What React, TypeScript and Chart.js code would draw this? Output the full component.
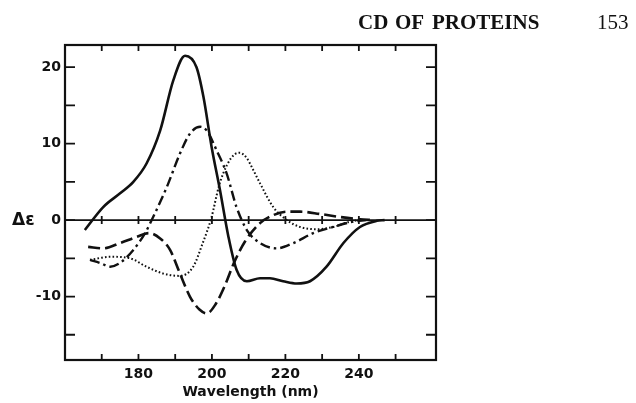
import { useEffect, useRef } from 'react';
import { Chart, registerables } from 'chart.js';

Chart.register(...registerables);

// Wavelength (nm) and Δε values
const solidNm = [165.4, 170.4, 175.0, 178.6, 182.2, 185.9, 189.5, 192.7, 195.8, 197.7, 199.9, 202.2, 204.5, 206.7, 209.5, 213.1, 215.8, 219.4, 223.1, 226.7, 231.2, 235.8, 240.3, 244.9, 247.0];
const solidDe = [-1.3, 1.7, 3.5, 5.0, 7.4, 11.7, 18.3, 21.5, 20.0, 16.1, 9.6, 3.9, -2.2, -6.5, -8.0, -7.6, -7.6, -8.0, -8.3, -8.0, -6.1, -3.0, -0.9, -0.1, 0];

const dashDotNm = [166.8, 169.5, 172.3, 175.0, 178.6, 181.8, 184.0, 187.7, 191.3, 194.0, 196.8, 198.6, 201.3, 204.0, 206.7, 209.5, 213.1, 217.6, 222.2, 227.6, 233.0, 238.5, 242.0];
const dashDotDe = [-5.2, -5.6, -6.1, -5.6, -3.9, -1.7, 0.4, 4.3, 8.7, 11.3, 12.2, 11.7, 9.1, 6.1, 1.7, -1.3, -3.0, -3.7, -3.0, -1.7, -0.9, -0.2, 0];

const dottedNm = [166.8, 172.3, 177.7, 182.2, 186.8, 191.3, 194.9, 197.5, 199.8, 202.0, 204.2, 206.2, 207.6, 209.5, 211.2, 213.1, 216.7, 220.4, 224.0, 228.5, 233.0, 237.6, 240.0];
const dottedDe = [-5.2, -4.8, -5.0, -6.1, -7.0, -7.3, -6.1, -3.0, 0.2, 4.6, 7.3, 8.6, 8.8, 8.1, 6.6, 4.8, 1.7, 0.0, -0.9, -1.2, -0.9, -0.2, 0];

const dashedNm = [166.3, 170.4, 175.0, 179.5, 182.8, 185.9, 188.6, 191.3, 194.0, 196.6, 198.6, 201.0, 203.5, 206.0, 209.0, 213.1, 216.7, 220.4, 224.0, 229.4, 234.9, 240.3, 243.8];
const dashedDe = [-3.5, -3.7, -3.0, -2.2, -1.7, -2.4, -3.9, -7.0, -10.0, -11.7, -12.2, -11.0, -8.6, -5.6, -2.8, -0.4, 0.65, 1.1, 1.1, 0.8, 0.4, 0.1, 0];

const xTickLabels = [180, 200, 220, 240];
const yTickLabels = [20, 10, 0, -10];
const xMinorTicks = [170, 180, 190, 200, 210, 220, 230, 240, 250];
const yMinorTicks = [20, 15, 10, 5, 0, -5, -10, -15];

const headerWords = ['CD', 'OF', 'PROTEINS'];
const pageNumber = '153';

const toPoints = (xs: number[], ys: number[]) => xs.map((x, i) => ({ x, y: ys[i] }));

const framePlugin = {
  id: 'framePlugin',
  afterDraw(chart: any) {
    const { ctx, chartArea } = chart;
    const xs = chart.scales.x;
    const ys = chart.scales.y;
    const { left, right, top, bottom } = chartArea;
    ctx.save();
    ctx.strokeStyle = '#111';
    ctx.lineCap = 'butt';
    // zero line
    const y0 = ys.getPixelForValue(0);
    ctx.lineWidth = 1.6;
    ctx.beginPath();
    ctx.moveTo(left, y0);
    ctx.lineTo(right, y0);
    ctx.stroke();
    // frame
    ctx.lineWidth = 2.2;
    ctx.strokeRect(left, top, right - left, bottom - top);
    // x ticks
    ctx.lineWidth = 1.8;
    xMinorTicks.forEach((v) => {
      const px = xs.getPixelForValue(v);
      ctx.beginPath();
      ctx.moveTo(px, bottom);
      ctx.lineTo(px, bottom - 6);
      ctx.moveTo(px, top);
      ctx.lineTo(px, top + 6);
      ctx.moveTo(px, y0 - 4);
      ctx.lineTo(px, y0 + 4);
      ctx.stroke();
    });
    // y ticks
    yMinorTicks.forEach((v) => {
      const py = ys.getPixelForValue(v);
      ctx.beginPath();
      ctx.moveTo(left, py);
      ctx.lineTo(left + 10, py);
      ctx.moveTo(right, py);
      ctx.lineTo(right - 10, py);
      ctx.stroke();
    });
    // Δε label
    ctx.fillStyle = '#111';
    ctx.font = 'bold 17px "DejaVu Sans"';
    ctx.textAlign = 'left';
    ctx.textBaseline = 'middle';
    ctx.fillText('Δε', 12, y0);
    // header
    ctx.font = 'bold 21px "Liberation Serif"';
    ctx.textBaseline = 'alphabetic';
    const wordX = [358, 395, 432];
    headerWords.forEach((w, i) => ctx.fillText(w, wordX[i], 29));
    ctx.font = '21px "Liberation Serif"';
    ctx.fillText(pageNumber, 597, 29);
    ctx.restore();
  },
};

export default function App() {
  const ref = useRef<HTMLCanvasElement | null>(null);
  useEffect(() => {
    document.body.style.margin = '0';
    const canvas = ref.current;
    if (!canvas) return;
    const tickFont = { family: '"DejaVu Sans"', size: 14, weight: 'bold' as const };
    const chart = new Chart(canvas, {
      type: 'line',
      data: {
        datasets: [
          {
            data: toPoints(solidNm, solidDe),
            borderColor: '#111',
            borderWidth: 2.6,
            pointRadius: 0,
            cubicInterpolationMode: 'monotone',
            fill: false,
          },
          {
            data: toPoints(dashDotNm, dashDotDe),
            borderColor: '#111',
            borderWidth: 2.4,
            borderDash: [10, 4, 2.5, 4],
            pointRadius: 0,
            cubicInterpolationMode: 'monotone',
            fill: false,
          },
          {
            data: toPoints(dottedNm, dottedDe),
            borderColor: '#111',
            borderWidth: 2,
            borderDash: [1.6, 2.2],
            pointRadius: 0,
            cubicInterpolationMode: 'monotone',
            fill: false,
          },
          {
            data: toPoints(dashedNm, dashedDe),
            borderColor: '#111',
            borderWidth: 2.6,
            borderDash: [12, 5],
            pointRadius: 0,
            cubicInterpolationMode: 'monotone',
            fill: false,
          },
        ],
      },
      options: {
        responsive: false,
        animation: false,
        layout: { padding: { left: 0, right: 200, top: 45, bottom: 0 } },
        plugins: { legend: { display: false }, tooltip: { enabled: false }, title: { display: false } },
        scales: {
          x: {
            type: 'linear',
            min: 160,
            max: 261,
            grid: { display: false, drawTicks: false },
            border: { display: false },
            ticks: {
              stepSize: 20,
              autoSkip: false,
              maxRotation: 0,
              padding: 6,
              color: '#111',
              font: tickFont,
              callback: (v: any) => (xTickLabels.includes(Number(v)) ? String(v) : ''),
            },
            title: {
              display: true,
              text: 'Wavelength (nm)',
              color: '#111',
              font: tickFont,
              padding: { top: 0, bottom: 2 },
            },
            afterFit: (s: any) => {
              s.height = 43;
            },
          },
          y: {
            type: 'linear',
            min: -18.3,
            max: 22.9,
            grid: { display: false, drawTicks: false },
            border: { display: false },
            ticks: {
              stepSize: 5,
              autoSkip: false,
              padding: 4,
              color: '#111',
              font: tickFont,
              callback: (v: any) => (yTickLabels.includes(Number(v)) ? String(v) : ''),
            },
            afterFit: (s: any) => {
              s.width = 65;
            },
          },
        },
      },
      plugins: [framePlugin],
    });
    return () => chart.destroy();
  }, []);
  return (
    <div style={{ position: 'absolute', left: 0, top: 0, width: 636, height: 403, background: '#fff' }}>
      <canvas ref={ref} width={636} height={403} />
    </div>
  );
}
